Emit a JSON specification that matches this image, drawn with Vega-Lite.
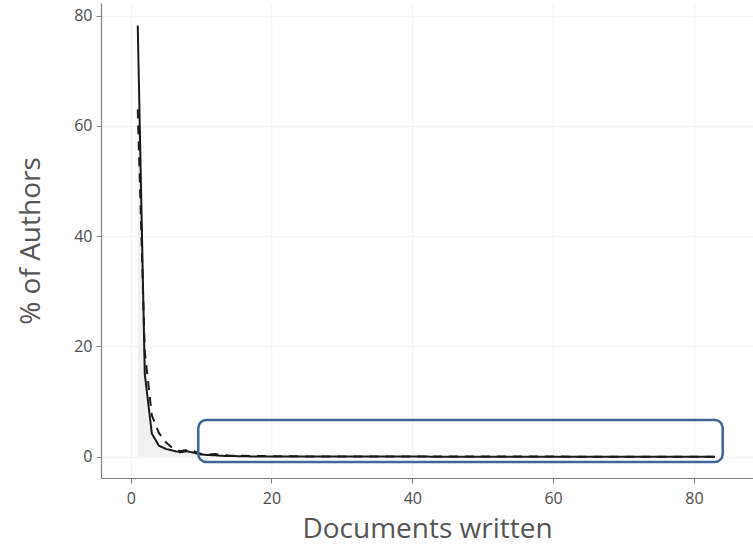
{
  "$schema": "https://vega.github.io/schema/vega-lite/v6.json",
  "width": 652,
  "height": 475,
  "autosize": {"type": "none"},
  "padding": {"left": 101, "top": 3, "right": 0, "bottom": 73},
  "background": "white",
  "datasets": {
    "authors": [
      {"docs": 1, "pct": 78.2, "series": "solid"},
      {"docs": 2, "pct": 15.0, "series": "solid"},
      {"docs": 3, "pct": 4.2, "series": "solid"},
      {"docs": 4, "pct": 2.0, "series": "solid"},
      {"docs": 5, "pct": 1.4, "series": "solid"},
      {"docs": 6, "pct": 1.1, "series": "solid"},
      {"docs": 7, "pct": 0.8, "series": "solid"},
      {"docs": 8, "pct": 1.0, "series": "solid"},
      {"docs": 9, "pct": 0.7, "series": "solid"},
      {"docs": 10, "pct": 0.4, "series": "solid"},
      {"docs": 11, "pct": 0.3, "series": "solid"},
      {"docs": 12, "pct": 0.25, "series": "solid"},
      {"docs": 13, "pct": 0.15, "series": "solid"},
      {"docs": 14, "pct": 0.1, "series": "solid"},
      {"docs": 15, "pct": 0.1, "series": "solid"},
      {"docs": 17, "pct": 0.05, "series": "solid"},
      {"docs": 20, "pct": 0.03, "series": "solid"},
      {"docs": 25, "pct": 0.02, "series": "solid"},
      {"docs": 30, "pct": 0.01, "series": "solid"},
      {"docs": 40, "pct": 0.01, "series": "solid"},
      {"docs": 50, "pct": 0.0, "series": "solid"},
      {"docs": 60, "pct": 0.0, "series": "solid"},
      {"docs": 70, "pct": 0.0, "series": "solid"},
      {"docs": 83, "pct": 0.0, "series": "solid"},
      {"docs": 1, "pct": 63.0, "series": "dashed"},
      {"docs": 2, "pct": 19.0, "series": "dashed"},
      {"docs": 3, "pct": 7.5, "series": "dashed"},
      {"docs": 4, "pct": 4.3, "series": "dashed"},
      {"docs": 5, "pct": 2.6, "series": "dashed"},
      {"docs": 6, "pct": 1.5, "series": "dashed"},
      {"docs": 7, "pct": 1.0, "series": "dashed"},
      {"docs": 8, "pct": 1.2, "series": "dashed"},
      {"docs": 9, "pct": 1.0, "series": "dashed"},
      {"docs": 10, "pct": 0.5, "series": "dashed"},
      {"docs": 11, "pct": 0.4, "series": "dashed"},
      {"docs": 12, "pct": 0.5, "series": "dashed"},
      {"docs": 13, "pct": 0.3, "series": "dashed"},
      {"docs": 14, "pct": 0.2, "series": "dashed"},
      {"docs": 16, "pct": 0.15, "series": "dashed"},
      {"docs": 20, "pct": 0.1, "series": "dashed"},
      {"docs": 25, "pct": 0.05, "series": "dashed"},
      {"docs": 30, "pct": 0.03, "series": "dashed"},
      {"docs": 40, "pct": 0.02, "series": "dashed"},
      {"docs": 50, "pct": 0.01, "series": "dashed"},
      {"docs": 60, "pct": 0.01, "series": "dashed"},
      {"docs": 70, "pct": 0.0, "series": "dashed"},
      {"docs": 83, "pct": 0.0, "series": "dashed"}
    ],
    "highlight": [
      {"x_start": 9.6, "x_end": 84.1, "y_low": -0.95, "y_high": 6.65}
    ]
  },
  "layer": [
    {
      "data": {"name": "authors"},
      "transform": [{"filter": "datum.series === 'solid'"}],
      "mark": {"type": "area", "color": "#f1f1f1", "opacity": 1},
      "encoding": {
        "x": {
          "field": "docs",
          "type": "quantitative",
          "scale": {"domain": [-4.22, 88.4], "nice": false, "zero": false},
          "axis": {"values": [0, 20, 40, 60, 80], "title": "Documents written"}
        },
        "y": {
          "field": "pct",
          "type": "quantitative",
          "scale": {"domain": [-3.87, 82.3], "nice": false, "zero": false},
          "axis": {"values": [0, 20, 40, 60, 80], "title": "% of Authors"}
        },
        "y2": {"datum": 0}
      }
    },
    {
      "data": {"name": "authors"},
      "mark": {"type": "line", "color": "#1a1a1a", "strokeWidth": 2},
      "encoding": {
        "x": {"field": "docs", "type": "quantitative"},
        "y": {"field": "pct", "type": "quantitative"},
        "detail": {"field": "series"},
        "strokeDash": {
          "field": "series",
          "type": "nominal",
          "scale": {"domain": ["solid", "dashed"], "range": [[1, 0], [9, 7]]},
          "legend": null
        }
      }
    },
    {
      "data": {"name": "highlight"},
      "mark": {
        "type": "rect",
        "fill": null,
        "stroke": "#3e6699",
        "strokeWidth": 2.5,
        "cornerRadius": 8
      },
      "encoding": {
        "x": {"field": "x_start", "type": "quantitative"},
        "x2": {"field": "x_end"},
        "y": {"field": "y_low", "type": "quantitative"},
        "y2": {"field": "y_high"}
      }
    }
  ],
  "config": {
    "view": {"stroke": null},
    "font": "Open Sans",
    "axis": {
      "domainColor": "#7f7f7f",
      "domainWidth": 1.2,
      "tickColor": "#7f7f7f",
      "tickSize": 5,
      "gridColor": "#f4f4f4",
      "gridWidth": 1.5,
      "labelColor": "#4d4d4d",
      "labelFontSize": 16,
      "titleColor": "#555555",
      "titleFontSize": 28,
      "titleFontWeight": "normal"
    },
    "axisX": {"labelPadding": 7, "titlePadding": 9},
    "axisY": {"labelPadding": 4, "titlePadding": 28}
  }
}
